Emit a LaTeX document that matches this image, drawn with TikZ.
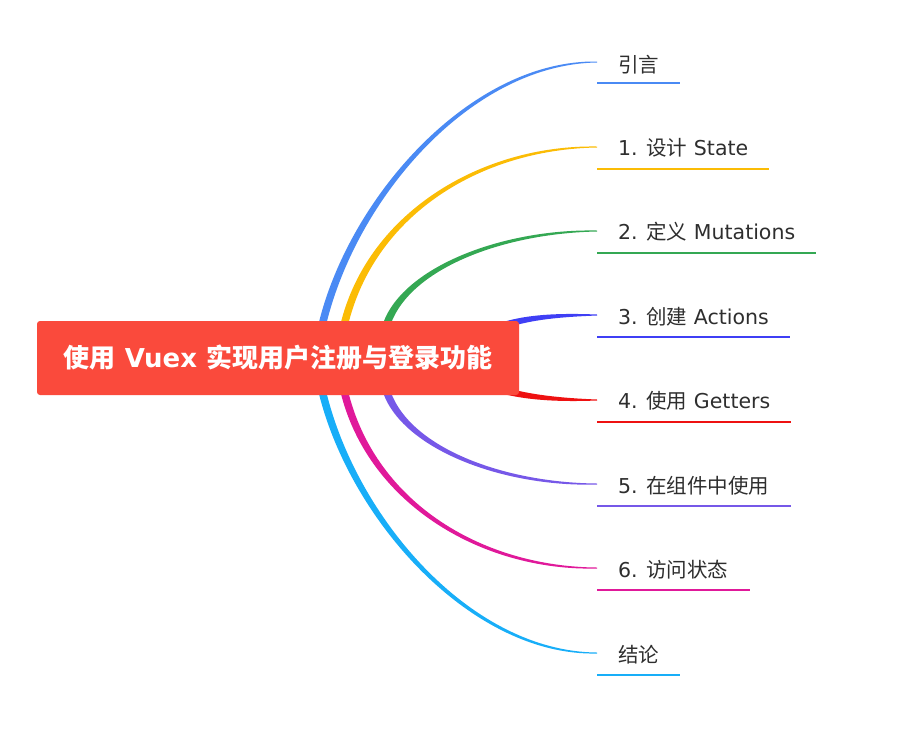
\documentclass[tikz,border=0pt]{standalone}
\usepackage{fontspec}
\setmainfont{DejaVu Sans}
\newfontfamily\cjk{Noto Sans CJK SC}
\usetikzlibrary{calc,backgrounds}
\definecolor{rootred}{HTML}{FA4A3C}
\definecolor{txt}{HTML}{2E2E2E}
\definecolor{cA}{HTML}{4A8AF4}
\definecolor{cB}{HTML}{FBBC05}
\definecolor{cC}{HTML}{34A853}
\definecolor{cD}{HTML}{3F3FF5}
\definecolor{cE}{HTML}{EE1111}
\definecolor{cF}{HTML}{7658E8}
\definecolor{cG}{HTML}{E0199A}
\definecolor{cH}{HTML}{18AEF8}
\tikzset{
  rootbox/.style={fill=rootred, rounded corners=3pt, minimum width=482pt, minimum height=74pt,
    text=white, font=\fontsize{26}{30}\selectfont\bfseries, inner sep=0pt},
  lab/.style={anchor=west, font=\fontsize{20.5}{24}\selectfont, text=txt, inner xsep=21pt,
    inner ysep=0pt, text height=17pt, text depth=2pt},
  uline/.style={line width=2pt},
}
% tapered branch: #1 colour, #2 start, #3 control 1, #4 control 2, #5 end
\newcommand\branch[5]{%
  \fill[#1] ($(#2)!3.8pt!90:(#3)$) .. controls ($(#3)!3.6pt!-90:(#2)$) and ($(#4)!2.4pt!90:(#5)$) ..
    ($(#5)!0.5pt!-90:(#4)$) -- ($(#5)!0.5pt!90:(#4)$) .. controls ($(#4)!2.4pt!-90:(#5)$) and ($(#3)!3.6pt!90:(#2)$) ..
    ($(#2)!3.8pt!-90:(#3)$) -- cycle;}
\begin{document}
\begin{tikzpicture}[x=1pt,y=-1pt]
\useasboundingbox (0,0) rectangle (902,732);
\node[rootbox] (root) at (278,358) {{\cjk 使用} Vuex {\cjk 实现用户注册与登录功能}};

\node[lab] (l1) at (597,65) {{\cjk 引言}};
\node[lab] (l2) at (597,148) {1. {\cjk 设计} State};
\node[lab] (l3) at (597,232) {2. {\cjk 定义} Mutations};
\node[lab] (l4) at (597,317) {3. {\cjk 创建} Actions};
\node[lab] (l5) at (597,401) {4. {\cjk 使用} Getters};
\node[lab] (l6) at (597,486) {5. {\cjk 在组件中使用}};
\node[lab] (l7) at (597,570) {6. {\cjk 访问状态}};
\node[lab] (l8) at (597,655) {{\cjk 结论}};

\draw[uline,cA] (l1.west |- 0,83) -- (l1.east |- 0,83);
\draw[uline,cB] (l2.west |- 0,169) -- (l2.east |- 0,169);
\draw[uline,cC] (l3.west |- 0,253) -- (l3.east |- 0,253);
\draw[uline,cD] (l4.west |- 0,337) -- (l4.east |- 0,337);
\draw[uline,cE] (l5.west |- 0,422) -- (l5.east |- 0,422);
\draw[uline,cF] (l6.west |- 0,506) -- (l6.east |- 0,506);
\draw[uline,cG] (l7.west |- 0,590) -- (l7.east |- 0,590);
\draw[uline,cH] (l8.west |- 0,675) -- (l8.east |- 0,675);

% branch geometry
\coordinate (s1) at (321,330); \coordinate (a1) at (350,200); \coordinate (b1) at (470,62);  \coordinate (e1) at ($(l1.west)+(0,-3)$);
\coordinate (s2) at (343,330); \coordinate (a2) at (368,215); \coordinate (b2) at (480,147); \coordinate (e2) at ($(l2.west)+(0,-1)$);
\coordinate (s3) at (385,330); \coordinate (a3) at (400,270); \coordinate (b3) at (500,231); \coordinate (e3) at ($(l3.west)+(0,-1)$);
\coordinate (s4) at (480,336); \coordinate (a4) at (510,318); \coordinate (b4) at (550,315); \coordinate (e4) at ($(l4.west)+(0,-2)$);
\coordinate (s5) at (480,382); \coordinate (a5) at (510,396); \coordinate (b5) at (550,400); \coordinate (e5) at ($(l5.west)+(0,-1)$);
\coordinate (s6) at (385,386); \coordinate (a6) at (400,446); \coordinate (b6) at (500,485); \coordinate (e6) at ($(l6.west)+(0,-2)$);
\coordinate (s7) at (343,386); \coordinate (a7) at (368,501); \coordinate (b7) at (480,569); \coordinate (e7) at ($(l7.west)+(0,-2)$);
\coordinate (s8) at (321,386); \coordinate (a8) at (350,516); \coordinate (b8) at (470,654); \coordinate (e8) at ($(l8.west)+(0,-2)$);

\begin{scope}[on background layer]
\branch{cA}{s1}{a1}{b1}{e1}
\branch{cB}{s2}{a2}{b2}{e2}
\branch{cC}{s3}{a3}{b3}{e3}
\branch{cD}{s4}{a4}{b4}{e4}
\branch{cE}{s5}{a5}{b5}{e5}
\branch{cF}{s6}{a6}{b6}{e6}
\branch{cG}{s7}{a7}{b7}{e7}
\branch{cH}{s8}{a8}{b8}{e8}
\end{scope}
\end{tikzpicture}
\end{document}
